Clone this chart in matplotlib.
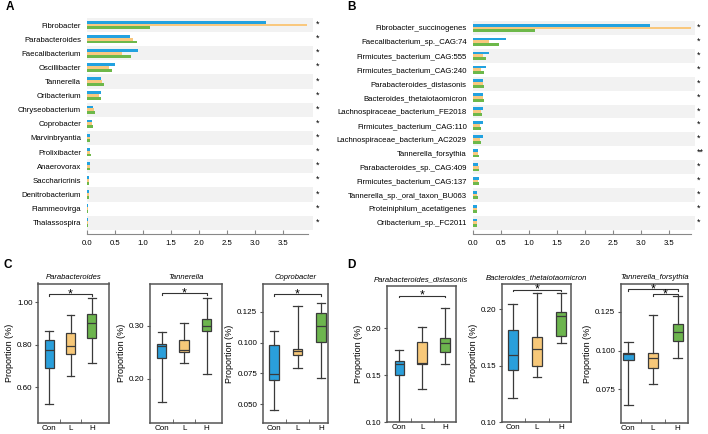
import numpy as np
import matplotlib

matplotlib.use("Agg")
import matplotlib.pyplot as plt
from matplotlib.transforms import blended_transform_factory

plt.rcParams["font.family"] = ["Liberation Sans", "DejaVu Sans"]

W, H = 708, 434

BLUE = "#22A2E0"
ORANGE = "#F9C87E"
GREEN = "#6DB84A"
BOX_COLORS = ["#2A9FDB", "#F7C879", "#6DB54E"]
BAND = "#F2F2F2"
FRAME = "#555555"

# ---- panel A: genus level mean abundance ----
genus = ["Fibrobacter", "Parabacteroides", "Faecalibacterium", "Oscillibacter",
         "Tannerella", "Oribacterium", "Chryseobacterium", "Coprobacter",
         "Marvinbryantia", "Prolixibacter", "Anaerovorax", "Saccharicrinis",
         "Denitrobacterium", "Flammeovirga", "Thalassospira"]
genus_con = [3.20, 0.76, 0.90, 0.50, 0.25, 0.25, 0.11, 0.08, 0.05, 0.05, 0.04, 0.03, 0.025, 0.02, 0.02]
genus_low = [3.94, 0.81, 0.62, 0.39, 0.26, 0.21, 0.125, 0.09, 0.05, 0.04, 0.04, 0.03, 0.025, 0.02, 0.02]
genus_high = [1.13, 0.89, 0.78, 0.44, 0.30, 0.245, 0.14, 0.11, 0.05, 0.06, 0.04, 0.03, 0.025, 0.02, 0.02]
genus_sig = ["*"] * 15

# ---- panel B: species level mean abundance ----
species = ["Fibrobacter_succinogenes", "Faecalibacterium_sp._CAG:74",
           "Firmicutes_bacterium_CAG:555", "Firmicutes_bacterium_CAG:240",
           "Parabacteroides_distasonis", "Bacteroides_thetaiotaomicron",
           "Lachnospiraceae_bacterium_FE2018", "Firmicutes_bacterium_CAG:110",
           "Lachnospiraceae_bacterium_AC2029", "Tannerella_forsythia",
           "Parabacteroides_sp._CAG:409", "Firmicutes_bacterium_CAG:137",
           "Tannerella_sp._oral_taxon_BU063", "Proteiniphilum_acetatigenes",
           "Oribacterium_sp._FC2011"]
species_con = [3.16, 0.59, 0.29, 0.23, 0.17, 0.17, 0.18, 0.17, 0.18, 0.095, 0.09, 0.11, 0.08, 0.08, 0.08]
species_low = [3.89, 0.29, 0.18, 0.14, 0.18, 0.17, 0.14, 0.13, 0.13, 0.095, 0.10, 0.09, 0.08, 0.07, 0.07]
species_high = [1.11, 0.46, 0.24, 0.20, 0.20, 0.19, 0.16, 0.15, 0.14, 0.11, 0.10, 0.10, 0.09, 0.08, 0.07]
species_sig = ["*"] * 9 + ["**"] + ["*"] * 5

bar_ticks = [0.0, 0.5, 1.0, 1.5, 2.0, 2.5, 3.0, 3.5]

# ---- panels C and D: box summaries [whisker low, q1, median, q3, whisker high] ----
groups = ["Con", "L", "H"]
box_parabacteroides = [[0.524, 0.691, 0.775, 0.822, 0.866],
                       [0.653, 0.758, 0.795, 0.858, 0.939],
                       [0.715, 0.831, 0.905, 0.944, 1.019]]
box_tannerella = [[0.156, 0.239, 0.261, 0.265, 0.288],
                  [0.229, 0.250, 0.255, 0.273, 0.304],
                  [0.209, 0.290, 0.299, 0.313, 0.351]]
box_coprobacter = [[0.0451, 0.0693, 0.0742, 0.0984, 0.1094],
                   [0.0790, 0.0903, 0.0930, 0.0949, 0.1299],
                   [0.0710, 0.1008, 0.1134, 0.1240, 0.1324]]
box_p_distasonis = [[0.100, 0.1503, 0.1617, 0.1652, 0.1772],
                    [0.1355, 0.1620, 0.1630, 0.1854, 0.2014],
                    [0.1617, 0.1748, 0.1840, 0.1894, 0.2220]]
box_b_theta = [[0.1218, 0.1467, 0.1600, 0.1817, 0.2044],
               [0.1400, 0.1497, 0.1645, 0.1758, 0.2142],
               [0.1699, 0.1767, 0.1938, 0.1973, 0.2142]]
box_t_forsythia = [[0.0649, 0.0936, 0.0981, 0.0987, 0.1058],
                   [0.0782, 0.0886, 0.0951, 0.0983, 0.1226],
                   [0.0951, 0.1062, 0.1118, 0.1172, 0.1349]]


def px(l, t, r, b):
    return [l / W, 1 - b / H, (r - l) / W, (b - t) / H]


fig = plt.figure(figsize=(W / 100, H / 100), dpi=100)


def bar_panel(rect, names, con, low, high, sig, xmax, spine_end):
    ax = fig.add_axes(px(*rect))
    y = np.arange(len(names))
    for i in y[::2]:
        ax.axhspan(i - 0.5, i + 0.5, color=BAND, lw=0, zorder=0)
    h = 0.2
    ax.barh(y - h, con, height=h, color=BLUE, zorder=2)
    ax.barh(y, low, height=h, color=ORANGE, zorder=2)
    ax.barh(y + h, high, height=h, color=GREEN, zorder=2)
    ax.set_xlim(0, xmax)
    ax.set_ylim(len(names) - 0.5 + 0.3, -0.5)
    ax.set_yticks(y, names, fontsize=5.6)
    ax.set_xticks(bar_ticks, [f"{t:.1f}" for t in bar_ticks], fontsize=5.6)
    ax.tick_params(axis="y", length=0, pad=4.5)
    ax.tick_params(axis="x", direction="in", length=3, color="#888888", pad=4)
    for s in ["top", "right", "left"]:
        ax.spines[s].set_visible(False)
    ax.spines["bottom"].set_color("#888888")
    ax.spines["bottom"].set_linewidth(0.8)
    ax.spines["bottom"].set_bounds(0, spine_end)
    trans = blended_transform_factory(ax.transAxes, ax.transData)
    for i, s in enumerate(sig):
        ax.annotate(s, xy=(1, i), xycoords=trans, xytext=(1.5, 0.5),
                    textcoords="offset points", ha="left", va="center", fontsize=6.5)
    return ax


bar_panel((87.3, 18, 313.3, 234), genus, genus_con, genus_low, genus_high,
          genus_sig, 4.05, 3.95)
bar_panel((473, 21, 695, 234), species, species_con, species_low, species_high,
          species_sig, 3.96, 3.89)


def box_panel(rect, title, data, xlim, ylim, yticks, fmt, brackets):
    ax = fig.add_axes(px(*rect))
    stats = []
    for vals in data:
        stats.append({"whislo": vals[0], "q1": vals[1], "med": vals[2],
                      "q3": vals[3], "whishi": vals[4], "fliers": []})
    line = dict(color="#3a3a3a", linewidth=0.9)
    bp = ax.bxp(stats, positions=[1, 2, 3], widths=0.42, capwidths=0.36,
                patch_artist=True, showfliers=False,
                boxprops=dict(edgecolor="#3a3a3a", linewidth=0.9),
                medianprops=line, whiskerprops=line, capprops=line)
    for patch, c in zip(bp["boxes"], BOX_COLORS):
        patch.set_facecolor(c)
    ax.set_xlim(*xlim)
    ax.set_ylim(*ylim)
    ax.set_xticks([1, 2, 3], groups, fontsize=5.8)
    ax.set_xticks([1.5, 2.5], minor=True)
    ax.tick_params(axis="x", which="major", length=0, pad=1.5)
    ax.tick_params(axis="x", which="minor", direction="in", length=3, color=FRAME)
    ax.set_yticks(yticks, [fmt.format(v) for v in yticks], fontsize=5.8)
    ax.tick_params(axis="y", length=2.5, color=FRAME, pad=1.5)
    for s in ax.spines.values():
        s.set_color(FRAME)
        s.set_linewidth(1.1)
    ax.set_ylabel("Proportion (%)", fontsize=6.5, labelpad=2)
    ax.set_title(title, fontsize=5.5, style="italic", pad=3.5)
    d = (ylim[1] - ylim[0]) * 0.012
    for x1, x2, yb in brackets:
        ax.plot([x1, x1, x2, x2], [yb - d, yb, yb, yb - d], color="#333333", lw=0.8)
        ax.annotate("*", xy=((x1 + x2) / 2, yb), xytext=(0, -2.2),
                    textcoords="offset points", ha="center", va="baseline", fontsize=9)
    return ax


box_panel((38.3, 283.5, 109, 423), "Parabacteroides", box_parabacteroides,
          (0.485, 3.8), (0.433, 1.089), [0.60, 0.80, 1.00], "{:.2f}", [(1, 3, 1.04)])
box_panel((150, 284, 222.5, 422.7), "Tannerella", box_tannerella,
          (0.48, 3.7), (0.118, 0.378), [0.20, 0.30], "{:.2f}", [(1, 3, 0.361)])
box_panel((262.7, 284, 327.5, 423.3), "Coprobacter", box_coprobacter,
          (0.51, 3.28), (0.0346, 0.1474), [0.050, 0.075, 0.100, 0.125], "{:.3f}",
          [(1, 3, 0.1393)])
box_panel((386.7, 286, 456, 422.3), "Parabacteroides_distasonis", box_p_distasonis,
          (0.45, 3.47), (0.10, 0.245), [0.10, 0.15, 0.20], "{:.2f}", [(1, 3, 0.2347)])
box_panel((501.7, 284, 571, 422.3), "Bacteroides_thetaiotaomicron", box_b_theta,
          (0.55, 3.4), (0.10, 0.2224), [0.10, 0.15, 0.20], "{:.2f}", [(1, 3, 0.2173)])
box_panel((620.7, 284.3, 688.3, 422.7), "Tannerella_forsythia", box_t_forsythia,
          (0.69, 3.43), (0.0535, 0.1427), [0.075, 0.100, 0.125], "{:.3f}",
          [(1, 3, 0.1394), (2, 3, 0.1362)])

for letter, x, y in [("A", 6, 6.5), ("B", 347, 6.5), ("C", 3, 265.5), ("D", 347, 265.5)]:
    fig.text(x / W, 1 - y / H, letter, fontsize=8.5, fontweight="bold",
             ha="left", va="center")

fig.savefig("out.png", dpi=100)
